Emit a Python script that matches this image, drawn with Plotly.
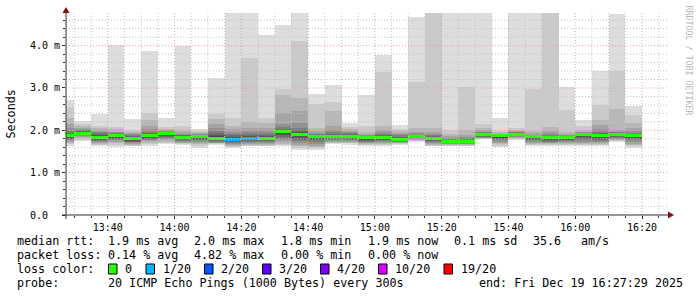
import plotly.graph_objects as go
from datetime import datetime, timedelta

# ---------------- data ----------------
DAY = "2025-12-19"
interval_end = ["13:30", "13:35", "13:40", "13:45", "13:50", "13:55", "14:00",
                "14:05", "14:10", "14:15", "14:20", "14:25", "14:30", "14:35",
                "14:40", "14:45", "14:50", "14:55", "15:00", "15:05", "15:10",
                "15:15", "15:20", "15:25", "15:30", "15:35", "15:40", "15:45",
                "15:50", "15:55", "16:00", "16:05", "16:10", "16:15", "16:20"]

median_rtt = [1.87, 1.93, 1.84, 1.87, 1.80, 1.87, 1.92, 1.84, 1.85, 1.81,
              1.79, 1.81, 1.81, 1.97, 1.91, 1.86, 1.86, 1.86, 1.82, 1.83,
              1.78, 1.86, 1.81, 1.74, 1.74, 1.91, 1.87, 1.91, 1.85, 1.82,
              1.83, 1.90, 1.87, 1.91, 1.87]

lost_pings = [0, 0, 0, 0, 0, 0, 0, 0, 0, 0, 1, 1, 0, 0, 0, 0, 0, 0, 0, 0,
              0, 0, 0, 0, 0, 0, 0, 0, 0, 0, 0, 0, 0, 0, 0]

# sorted ping rtts (ms) of the 20 pings of each 5-minute interval, named by interval end
smoke_1330 = [1.64, 1.67, 1.70, 1.73, 1.76, 1.78, 1.80, 1.82, 1.84, 1.86, 1.88, 1.89, 1.91, 1.94, 1.98, 2.05, 2.16, 2.30, 2.56, 2.71]
smoke_1335 = [1.74, 1.78, 1.82, 1.85, 1.87, 1.88, 1.89, 1.90, 1.91, 1.92, 1.94, 1.95, 1.96, 1.98, 2.00, 2.03, 2.06, 2.09, 2.14, 2.22]
smoke_1340 = [1.64, 1.66, 1.68, 1.70, 1.72, 1.74, 1.76, 1.78, 1.80, 1.83, 1.85, 1.87, 1.89, 1.92, 1.95, 1.97, 2.00, 2.05, 2.10, 2.38]
smoke_1345 = [1.60, 1.65, 1.70, 1.73, 1.76, 1.78, 1.80, 1.82, 1.84, 1.86, 1.88, 1.89, 1.90, 1.91, 1.93, 1.95, 1.97, 2.02, 2.08, 4.02]
smoke_1350 = [1.62, 1.64, 1.66, 1.68, 1.70, 1.72, 1.73, 1.75, 1.77, 1.79, 1.81, 1.83, 1.85, 1.87, 1.89, 1.91, 1.93, 1.96, 2.00, 2.27]
smoke_1355 = [1.64, 1.68, 1.71, 1.74, 1.76, 1.78, 1.80, 1.82, 1.84, 1.86, 1.88, 1.90, 1.92, 1.94, 1.97, 2.02, 2.10, 2.25, 2.40, 3.88]
smoke_1400 = [1.67, 1.70, 1.73, 1.76, 1.79, 1.82, 1.85, 1.87, 1.89, 1.91, 1.93, 1.94, 1.95, 1.96, 1.97, 1.98, 2.00, 2.03, 2.08, 2.28]
smoke_1405 = [1.65, 1.67, 1.69, 1.71, 1.73, 1.75, 1.77, 1.79, 1.81, 1.83, 1.85, 1.86, 1.87, 1.88, 1.90, 1.92, 1.95, 2.00, 2.10, 3.98]
smoke_1410 = [1.59, 1.63, 1.67, 1.70, 1.73, 1.76, 1.78, 1.80, 1.82, 1.84, 1.86, 1.87, 1.88, 1.89, 1.90, 1.91, 1.93, 1.95, 1.98, 2.03]
smoke_1415 = [1.65, 1.67, 1.69, 1.70, 1.71, 1.72, 1.74, 1.76, 1.78, 1.80, 1.83, 1.86, 1.89, 1.93, 1.98, 2.05, 2.14, 2.26, 2.39, 3.24]
smoke_1420 = [1.58, 1.61, 1.64, 1.66, 1.68, 1.70, 1.72, 1.74, 1.76, 1.78, 1.80, 1.82, 1.85, 1.88, 1.92, 1.96, 2.02, 2.10, 2.30, 4.80]
smoke_1425 = [1.62, 1.64, 1.66, 1.68, 1.70, 1.72, 1.74, 1.76, 1.78, 1.80, 1.82, 1.84, 1.87, 1.90, 1.94, 1.98, 2.05, 2.19, 3.70, 4.80]
smoke_1430 = [1.62, 1.64, 1.66, 1.68, 1.70, 1.72, 1.74, 1.76, 1.78, 1.80, 1.82, 1.84, 1.86, 1.89, 1.93, 1.98, 2.05, 2.18, 2.29, 4.24]
smoke_1435 = [1.62, 1.65, 1.68, 1.72, 1.76, 1.80, 1.85, 1.89, 1.92, 1.95, 1.98, 1.99, 2.01, 2.03, 2.08, 2.15, 2.42, 2.84, 2.97, 4.48]
smoke_1440 = [1.54, 1.58, 1.62, 1.66, 1.70, 1.74, 1.78, 1.82, 1.86, 1.89, 1.92, 1.94, 1.96, 2.00, 2.06, 2.18, 2.45, 2.76, 4.12, 4.80]
smoke_1445 = [1.54, 1.58, 1.61, 1.64, 1.68, 1.72, 1.76, 1.80, 1.83, 1.85, 1.86, 1.87, 1.88, 1.89, 1.91, 1.94, 1.98, 2.05, 2.62, 2.86]
smoke_1450 = [1.68, 1.70, 1.71, 1.73, 1.75, 1.77, 1.79, 1.81, 1.83, 1.85, 1.87, 1.88, 1.89, 1.91, 1.95, 2.00, 2.09, 2.46, 2.67, 3.08]
smoke_1455 = [1.66, 1.69, 1.71, 1.73, 1.75, 1.77, 1.79, 1.81, 1.83, 1.85, 1.87, 1.89, 1.90, 1.92, 1.94, 1.96, 1.99, 2.03, 2.08, 2.17]
smoke_1500 = [1.62, 1.65, 1.67, 1.69, 1.71, 1.73, 1.75, 1.77, 1.79, 1.81, 1.82, 1.83, 1.84, 1.85, 1.86, 1.88, 1.91, 1.96, 2.10, 2.84]
smoke_1505 = [1.62, 1.65, 1.68, 1.70, 1.72, 1.74, 1.76, 1.78, 1.80, 1.82, 1.84, 1.85, 1.86, 1.88, 1.91, 1.95, 2.00, 2.10, 3.37, 3.79]
smoke_1510 = [1.66, 1.68, 1.70, 1.71, 1.72, 1.73, 1.74, 1.75, 1.76, 1.77, 1.79, 1.81, 1.83, 1.85, 1.88, 1.91, 1.94, 1.98, 2.03, 2.13]
smoke_1515 = [1.72, 1.74, 1.76, 1.78, 1.80, 1.81, 1.82, 1.83, 1.84, 1.85, 1.86, 1.86, 1.87, 1.88, 1.90, 1.93, 1.97, 2.05, 3.13, 4.68]
smoke_1520 = [1.62, 1.64, 1.66, 1.68, 1.70, 1.72, 1.74, 1.76, 1.78, 1.80, 1.82, 1.83, 1.84, 1.86, 1.88, 1.92, 1.97, 2.05, 4.80, 4.90]
smoke_1525 = [1.62, 1.64, 1.66, 1.67, 1.68, 1.69, 1.70, 1.71, 1.72, 1.73, 1.75, 1.76, 1.77, 1.78, 1.80, 1.83, 1.87, 1.92, 2.00, 4.90]
smoke_1530 = [1.62, 1.64, 1.66, 1.67, 1.68, 1.69, 1.70, 1.71, 1.72, 1.73, 1.75, 1.76, 1.77, 1.78, 1.81, 1.85, 1.90, 2.00, 3.03, 4.90]
smoke_1535 = [1.79, 1.80, 1.81, 1.82, 1.83, 1.84, 1.85, 1.86, 1.88, 1.90, 1.92, 1.92, 1.93, 1.94, 1.95, 1.97, 2.00, 2.05, 2.14, 4.90]
smoke_1540 = [1.60, 1.63, 1.67, 1.70, 1.73, 1.76, 1.79, 1.82, 1.84, 1.86, 1.87, 1.88, 1.88, 1.89, 1.90, 1.91, 1.92, 1.95, 1.99, 2.30]
smoke_1545 = [1.77, 1.79, 1.81, 1.83, 1.85, 1.86, 1.87, 1.88, 1.89, 1.90, 1.91, 1.92, 1.93, 1.94, 1.95, 1.96, 1.98, 2.01, 2.06, 4.90]
smoke_1550 = [1.64, 1.66, 1.68, 1.70, 1.73, 1.76, 1.78, 1.80, 1.82, 1.84, 1.85, 1.86, 1.86, 1.87, 1.88, 1.90, 1.93, 1.98, 2.98, 4.90]
smoke_1555 = [1.63, 1.65, 1.67, 1.69, 1.71, 1.73, 1.75, 1.77, 1.79, 1.81, 1.83, 1.84, 1.85, 1.87, 1.89, 1.93, 1.98, 2.08, 4.80, 4.90]
smoke_1600 = [1.62, 1.65, 1.68, 1.70, 1.72, 1.74, 1.76, 1.78, 1.80, 1.82, 1.83, 1.84, 1.85, 1.86, 1.87, 1.89, 1.92, 1.97, 2.49, 3.02]
smoke_1605 = [1.62, 1.65, 1.67, 1.69, 1.72, 1.76, 1.80, 1.84, 1.87, 1.89, 1.90, 1.91, 1.92, 1.93, 1.94, 1.95, 1.97, 2.01, 2.10, 2.25]
smoke_1610 = [1.64, 1.66, 1.68, 1.70, 1.72, 1.75, 1.78, 1.81, 1.84, 1.86, 1.88, 1.89, 1.91, 1.93, 1.97, 2.03, 2.13, 2.25, 2.60, 3.39]
smoke_1615 = [1.72, 1.74, 1.76, 1.78, 1.80, 1.82, 1.84, 1.86, 1.88, 1.90, 1.91, 1.92, 1.93, 1.94, 1.95, 1.97, 2.01, 2.51, 3.41, 4.74]
smoke_1620 = [1.59, 1.62, 1.65, 1.68, 1.72, 1.76, 1.80, 1.83, 1.85, 1.86, 1.88, 1.88, 1.89, 1.91, 1.94, 1.98, 2.05, 2.17, 2.35, 2.58]

smoke_rows = [smoke_1330, smoke_1335, smoke_1340, smoke_1345, smoke_1350, smoke_1355,
              smoke_1400, smoke_1405, smoke_1410, smoke_1415, smoke_1420, smoke_1425,
              smoke_1430, smoke_1435, smoke_1440, smoke_1445, smoke_1450, smoke_1455,
              smoke_1500, smoke_1505, smoke_1510, smoke_1515, smoke_1520, smoke_1525,
              smoke_1530, smoke_1535, smoke_1540, smoke_1545, smoke_1550, smoke_1555,
              smoke_1600, smoke_1605, smoke_1610, smoke_1615, smoke_1620]

y_tick_vals = [0, 1, 2, 3, 4]
y_tick_text = ["0.0\u00a0\u00a0", "1.0 m", "2.0 m", "3.0 m", "4.0 m"]

loss_levels = [0, 1, 2, 3, 4, 10, 19]
loss_labels = ["0", "1/20", "2/20", "3/20", "4/20", "10/20", "19/20"]
loss_colors = ["#26ff00", "#00b8ff", "#0059ff", "#5e00ff", "#7e00ff", "#dd00ff", "#ff0000"]

stats_rtt = ["1.9 ms avg", "2.0 ms max", "1.8 ms min", "1.9 ms now", "0.1 ms sd", "35.6", "am/s"]
stats_loss = ["0.14 % avg", "4.82 % max", "0.00 % min", "0.00 % now"]
probe_text = "20 ICMP Echo Pings (1000 Bytes) every 300s"
end_text = "end: Fri Dec 19 16:27:29 2025"

# ---------------- geometry helpers ----------------
FIG_W, FIG_H = 697, 297
L, T, W, H = 66, 13, 601, 202
FONT = "DejaVu Sans Mono"


def px(x):
    return (x - L) / W


def py(y):
    return (T + H - y) / H


STEP = timedelta(minutes=5)
end_dt = [datetime.strptime(f"{DAY} {t}", "%Y-%m-%d %H:%M") for t in interval_end]
centers = [e - STEP / 2 for e in end_dt]
bar_w = STEP.total_seconds() * 1000
x_start = datetime.strptime(f"{DAY} 13:27:29", "%Y-%m-%d %H:%M:%S")
x_end = datetime.strptime(f"{DAY} 16:27:29", "%Y-%m-%d %H:%M:%S")
Y_MAX = 4.77

fig = go.Figure()

# smoke: band i spans ping i .. ping (n+1-i)
n_pings = 20
half = n_pings // 2
for i in range(1, half + 1):
    g = int(190 / half * (half - i)) + 50
    col = f"rgb({g},{g},{g})"
    lo = [row[i - 1] for row in smoke_rows]
    hi = [row[n_pings - i] for row in smoke_rows]
    fig.add_trace(go.Bar(
        x=centers, base=lo, y=[h - l for h, l in zip(hi, lo)], width=bar_w,
        marker=dict(color=col, line=dict(width=0)), hoverinfo="skip", showlegend=False,
    ))

# median band coloured by loss
color_of = dict(zip(loss_levels, loss_colors))
band = 0.034
fig.add_trace(go.Bar(
    x=centers, base=[m - band for m in median_rtt], y=[2 * band] * len(median_rtt),
    width=bar_w, marker=dict(color=[color_of[l] for l in lost_pings], line=dict(width=0)),
    hoverinfo="skip", showlegend=False,
))

shapes = []
# grid (drawn above the graph like rrdtool)
MINOR = "#c4c4c4"
MAJOR = "#e6a0a0"
t = datetime.strptime(f"{DAY} 13:30", "%Y-%m-%d %H:%M")
while t < x_end:
    major = t.minute % 20 == 0
    shapes.append(dict(type="line", xref="x", yref="paper", x0=t, x1=t, y0=0, y1=1,
                       line=dict(color=MAJOR if major else MINOR, width=1, dash="1px,2px"),
                       layer="above"))
    t += STEP
k = 1
while k * 0.2 < Y_MAX:
    v = round(k * 0.2, 3)
    major = abs(v - round(v)) < 1e-9
    shapes.append(dict(type="line", xref="paper", yref="y", x0=0, x1=1, y0=v, y1=v,
                       line=dict(color=MAJOR if major else MINOR, width=1, dash="1px,2px"),
                       layer="above"))
    k += 1

# axes lines + arrows
AX = "#303030"
ARROW = "#801010"
shapes.append(dict(type="line", xref="paper", yref="paper", x0=px(62), x1=px(669),
                   y0=py(215), y1=py(215), line=dict(color=AX, width=1), layer="above"))
shapes.append(dict(type="line", xref="paper", yref="paper", x0=px(66), x1=px(66),
                   y0=py(219), y1=py(11), line=dict(color=AX, width=1), layer="above"))
shapes.append(dict(type="path", xref="paper", yref="paper",
                   path=f"M {px(674)} {py(215)} L {px(668)} {py(211.5)} L {px(668)} {py(218.5)} Z",
                   fillcolor=ARROW, line=dict(width=0), layer="above"))
shapes.append(dict(type="path", xref="paper", yref="paper",
                   path=f"M {px(66)} {py(7)} L {px(62.5)} {py(13)} L {px(69.5)} {py(13)} Z",
                   fillcolor=ARROW, line=dict(width=0), layer="above"))

annotations = []


def text(x, y, s, size=11.7, color="#000", anchor="left", angle=0):
    annotations.append(dict(xref="paper", yref="paper", x=px(x), y=py(y), text=s,
                            showarrow=False, xanchor=anchor, yanchor="middle",
                            textangle=angle, borderpad=0,
                            font=dict(family=FONT, size=size, color=color)))


LINE_Y = [241, 255, 269, 283]
COLS = [107, 193, 280, 367, 453, 532, 580]

text(16, LINE_Y[0], "median rtt:")
for s, x in zip(stats_rtt, COLS):
    text(x, LINE_Y[0], s)
text(16, LINE_Y[1], "packet loss:")
for s, x in zip(stats_loss, COLS):
    text(x, LINE_Y[1], s)
text(16, LINE_Y[2], "loss color:")
box_x = [108.5, 146, 204.5, 262.5, 320.5, 378.5, 444]
for bx, lab, c in zip(box_x, loss_labels, loss_colors):
    shapes.append(dict(type="rect", xref="paper", yref="paper",
                       x0=px(bx), x1=px(bx + 8.5), y0=py(274), y1=py(264),
                       fillcolor=c, line=dict(color="#000", width=1), layer="above"))
    text(bx + 15.5, LINE_Y[2], lab)
text(16, LINE_Y[3], "probe:")
text(107, LINE_Y[3], probe_text)
text(478, LINE_Y[3], end_text)

text(10.5, 114, "Seconds", angle=-90, anchor="center")
text(688.5, 60, "RRDTOOL / TOBI OETIKER", size=8.3, color="#b8b8b8", anchor="center", angle=90)

fig.update_layout(
    width=FIG_W, height=FIG_H,
    margin=dict(l=L, r=FIG_W - L - W, t=T, b=FIG_H - T - H, pad=0),
    paper_bgcolor="white", plot_bgcolor="white",
    barmode="overlay", bargap=0, showlegend=False,
    shapes=shapes, annotations=annotations,
    font=dict(family=FONT, size=10, color="#000"),
    xaxis=dict(
        type="date", range=[x_start, x_end], showgrid=False, zeroline=False, showline=False,
        ticks="outside", ticklen=3, tickcolor=AX, tickwidth=1,
        tickmode="linear", tick0=f"{DAY} 13:40", dtick=20 * 60 * 1000, tickformat="%H:%M",
        tickfont=dict(family=FONT, size=10, color="#000"),
        minor=dict(ticks="outside", ticklen=2, tickcolor=AX, dtick=5 * 60 * 1000,
                   tick0=f"{DAY} 13:40", showgrid=False),
        fixedrange=True,
    ),
    yaxis=dict(
        range=[0, Y_MAX], showgrid=False, zeroline=False, showline=False,
        ticks="outside", ticklen=3, tickcolor=AX, tickwidth=1,
        tickmode="array", tickvals=y_tick_vals, ticktext=y_tick_text,
        tickfont=dict(family=FONT, size=10, color="#000"),
        minor=dict(ticks="outside", ticklen=2, tickcolor=AX, dtick=0.2, tick0=0, showgrid=False),
        fixedrange=True,
    ),
)

fig.write_html("out.html")
